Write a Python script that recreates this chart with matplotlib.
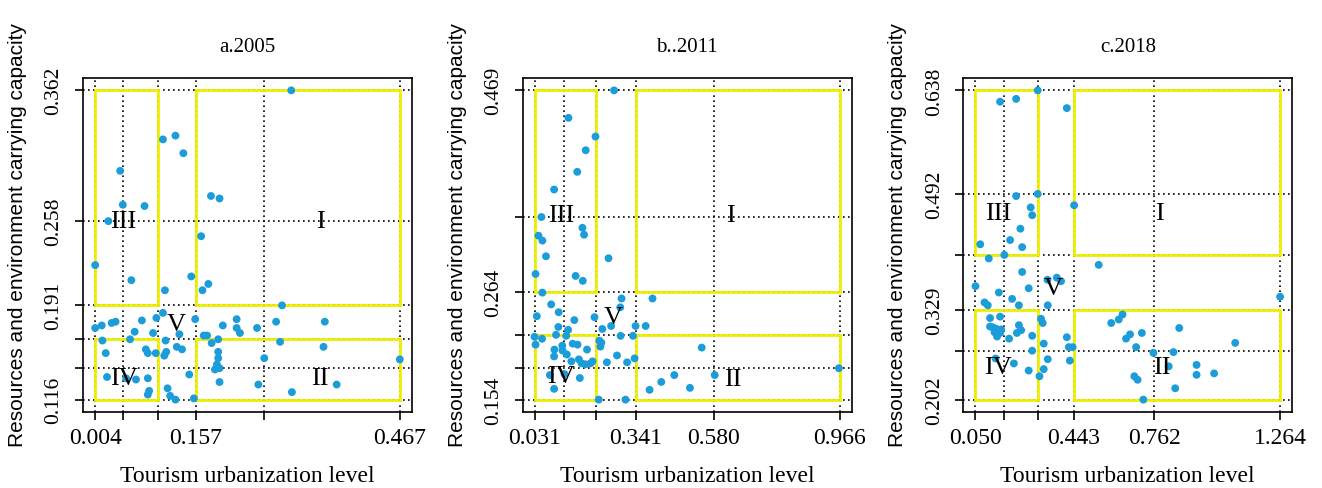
import matplotlib
matplotlib.use("Agg")
import matplotlib.pyplot as plt
from matplotlib.patches import Rectangle

# Dados (nível de urbanização turística x capacidade de carga)
anos = ["a.2005", "b..2011", "c.2018"]

x_2005 = [0.302, 0.107, 0.126, 0.138, 0.042, 0.046, 0.079, 0.180, 0.193, 0.024, 0.165, 0.004, 0.059,
          0.110, 0.150, 0.167, 0.176, 0.288, 0.004, 0.014, 0.029, 0.035, 0.075, 0.097, 0.107, 0.156,
          0.219, 0.198, 0.219, 0.224, 0.250, 0.279, 0.353, 0.064, 0.057, 0.015, 0.092, 0.111, 0.132,
          0.169, 0.174, 0.181, 0.191, 0.285, 0.351, 0.020, 0.081, 0.084, 0.096, 0.109, 0.112, 0.128,
          0.136, 0.191, 0.191, 0.261, 0.467, 0.189, 0.186, 0.193, 0.147, 0.022, 0.051, 0.066, 0.084,
          0.193, 0.252, 0.371, 0.086, 0.084, 0.114, 0.118, 0.126, 0.154, 0.303]
y_2005 = [0.362, 0.323, 0.326, 0.312, 0.298, 0.271, 0.270, 0.278, 0.276, 0.258, 0.246, 0.223, 0.211,
          0.203, 0.214, 0.203, 0.208, 0.191, 0.173, 0.175, 0.177, 0.178, 0.179, 0.181, 0.185, 0.180,
          0.180, 0.175, 0.173, 0.169, 0.173, 0.178, 0.178, 0.170, 0.164, 0.163, 0.169, 0.163, 0.168,
          0.167, 0.167, 0.161, 0.164, 0.162, 0.158, 0.153, 0.156, 0.153, 0.153, 0.151, 0.154, 0.158,
          0.156, 0.154, 0.149, 0.149, 0.148, 0.144, 0.140, 0.141, 0.136, 0.134, 0.133, 0.132, 0.133,
          0.130, 0.128, 0.128, 0.123, 0.120, 0.125, 0.119, 0.116, 0.117, 0.122]

x_2011 = [0.274, 0.134, 0.217, 0.187, 0.161, 0.090, 0.051, 0.042, 0.054, 0.065, 0.177, 0.182, 0.257,
          0.033, 0.156, 0.178, 0.054, 0.297, 0.392, 0.081, 0.104, 0.037, 0.152, 0.214, 0.293, 0.103,
          0.133, 0.238, 0.265, 0.340, 0.371, 0.030, 0.053, 0.096, 0.127, 0.294, 0.332, 0.033, 0.091,
          0.115, 0.147, 0.162, 0.229, 0.235, 0.232, 0.543, 0.116, 0.129, 0.191, 0.090, 0.143, 0.166,
          0.174, 0.186, 0.208, 0.202, 0.252, 0.283, 0.314, 0.337, 0.077, 0.090, 0.169, 0.383, 0.419,
          0.459, 0.507, 0.583, 0.964, 0.227, 0.309, 0.122]
y_2011 = [0.469, 0.441, 0.422, 0.408, 0.386, 0.368, 0.340, 0.321, 0.316, 0.300, 0.329, 0.322, 0.298,
          0.282, 0.280, 0.275, 0.263, 0.257, 0.257, 0.251, 0.243, 0.239, 0.235, 0.238, 0.248, 0.228,
          0.225, 0.226, 0.229, 0.229, 0.229, 0.218, 0.216, 0.220, 0.219, 0.219, 0.219, 0.210, 0.205,
          0.209, 0.211, 0.210, 0.214, 0.212, 0.208, 0.207, 0.204, 0.200, 0.205, 0.198, 0.193, 0.195,
          0.191, 0.190, 0.193, 0.191, 0.192, 0.199, 0.192, 0.196, 0.179, 0.165, 0.176, 0.164, 0.172,
          0.179, 0.166, 0.179, 0.186, 0.154, 0.154, 0.180]

x_2018 = [0.298, 0.148, 0.212, 0.414, 0.212, 0.298, 0.443, 0.270, 0.276, 0.229, 0.188, 0.236, 0.069,
          0.103, 0.165, 0.541, 0.236, 0.050, 0.143, 0.262, 0.337, 0.374, 0.391, 0.086, 0.099, 0.196,
          0.223, 0.338, 1.264, 0.108, 0.148, 0.108, 0.119, 0.132, 0.142, 0.136, 0.148, 0.152, 0.126,
          0.184, 0.223, 0.215, 0.232, 0.276, 0.311, 0.318, 0.322, 0.276, 0.338, 0.322, 0.305, 0.262,
          0.203, 0.130, 0.414, 0.422, 0.437, 0.426, 0.591, 0.621, 0.636, 0.650, 0.666, 0.713, 0.690,
          0.862, 1.085, 0.759, 0.839, 0.820, 0.683, 0.696, 0.931, 0.931, 1.001, 0.846, 0.719]
y_2018 = [0.638, 0.622, 0.626, 0.613, 0.489, 0.492, 0.476, 0.473, 0.462, 0.443, 0.427, 0.417, 0.421,
          0.401, 0.406, 0.392, 0.382, 0.362, 0.353, 0.359, 0.371, 0.374, 0.369, 0.339, 0.335, 0.344,
          0.335, 0.335, 0.347, 0.317, 0.319, 0.305, 0.304, 0.302, 0.297, 0.291, 0.296, 0.301, 0.297,
          0.288, 0.307, 0.296, 0.300, 0.292, 0.316, 0.310, 0.281, 0.271, 0.259, 0.245, 0.235, 0.243,
          0.253, 0.260, 0.290, 0.276, 0.276, 0.257, 0.310, 0.315, 0.322, 0.288, 0.294, 0.296, 0.276,
          0.303, 0.282, 0.268, 0.269, 0.249, 0.235, 0.230, 0.251, 0.237, 0.239, 0.218, 0.202]

# Divisões (ticks) de cada painel; rótulo vazio = tick sem texto
xticks_2005 = [0.004, 0.047, 0.099, 0.157, 0.261, 0.467]
xlabels_2005 = ["0.004", "", "", "0.157", "", "0.467"]
yticks_2005 = [0.116, 0.141, 0.1645, 0.191, 0.258, 0.362]
ylabels_2005 = ["0.116", "", "", "0.191", "0.258", "0.362"]

xticks_2011 = [0.031, 0.119, 0.219, 0.341, 0.580, 0.966]
xlabels_2011 = ["0.031", "", "", "0.341", "0.580", "0.966"]
yticks_2011 = [0.154, 0.186, 0.220, 0.264, 0.340, 0.469]
ylabels_2011 = ["0.154", "", "", "0.264", "", "0.469"]

xticks_2018 = [0.050, 0.165, 0.298, 0.443, 0.762, 1.264]
xlabels_2018 = ["0.050", "", "", "0.443", "0.762", "1.264"]
yticks_2018 = [0.202, 0.271, 0.329, 0.406, 0.492, 0.638]
ylabels_2018 = ["0.202", "", "0.329", "", "0.492", "0.638"]

# Tipos (zonas) e onde o rótulo aparece
zonas = ["III", "I", "V", "IV", "II"]
pos_zonas_2005 = [(0.047, 0.258), (0.346, 0.258), (0.127, 0.176), (0.048, 0.133), (0.346, 0.133)]
pos_zonas_2011 = [(0.112, 0.342), (0.632, 0.342), (0.271, 0.238), (0.112, 0.178), (0.639, 0.175)]
pos_zonas_2018 = [(0.139, 0.465), (0.785, 0.465), (0.358, 0.359), (0.139, 0.248), (0.792, 0.248)]

AZUL = "#1C9DD9"
AMARELO = "#EEEE00"
SERIF = "Liberation Serif"
SANS = "Liberation Sans"


def painel(ax, titulo, xs, ys, xt, xl, yt, yl, pos_zonas):
    # limites no estilo R (4% de folga)
    dx = xt[-1] - xt[0]
    dy = yt[-1] - yt[0]
    ax.set_xlim(xt[0] - 0.04 * dx, xt[-1] + 0.04 * dx)
    ax.set_ylim(yt[0] - 0.04 * dy, yt[-1] + 0.04 * dy)

    # grade pontilhada em todos os ticks
    for v in xt:
        ax.axvline(v, color="black", lw=1.2, ls=(0, (1, 2)), zorder=1)
    for v in yt:
        ax.axhline(v, color="black", lw=1.2, ls=(0, (1, 2)), zorder=1)

    # caixas amarelas
    x0, xa, xb, x1 = xt[0], xt[2], xt[3], xt[5]
    y0, ya, yb, y1 = yt[0], yt[2], yt[3], yt[5]
    for (ex, ey, w, h) in [(x0, yb, xa - x0, y1 - yb), (xb, yb, x1 - xb, y1 - yb),
                           (x0, y0, xa - x0, ya - y0), (xb, y0, x1 - xb, ya - y0)]:
        ax.add_patch(Rectangle((ex, ey), w, h, fill=False, edgecolor=AMARELO, lw=2.0, zorder=2))

    ax.scatter(xs, ys, s=32, color=AZUL, edgecolors="none", zorder=3)

    for nome, (px, py) in zip(zonas, pos_zonas):
        ax.text(px, py, nome, fontsize=19, family=SERIF, ha="center", va="center", zorder=4)

    ax.set_xticks(xt)
    ax.set_xticklabels(xl, fontsize=17, family=SERIF)
    ax.set_yticks(yt)
    ax.set_yticklabels(yl, fontsize=15.5, family=SERIF, rotation=90, va="center")
    ax.tick_params(axis="both", direction="out", length=6, width=1.2)
    ax.tick_params(axis="x", pad=5)
    ax.tick_params(axis="y", pad=8)
    for sp in ax.spines.values():
        sp.set_linewidth(1.2)

    ax.set_title(titulo, fontsize=15, family=SERIF, y=1.081, pad=0, va="baseline")
    ax.set_xlabel("Tourism urbanization level", fontsize=17, family=SERIF, va="baseline")
    ax.xaxis.set_label_coords(0.5, -0.207)
    ax.set_ylabel("Resources and environment carrying capacity", fontsize=15, family=SANS,
                  va="baseline", ha="center")
    ax.yaxis.set_label_coords(-0.182, 0.533)


fig = plt.figure(figsize=(13.22, 4.89), dpi=100)
esquerdas = [83, 522.7, 963.3]
dados = [
    (x_2005, y_2005, xticks_2005, xlabels_2005, yticks_2005, ylabels_2005, pos_zonas_2005),
    (x_2011, y_2011, xticks_2011, xlabels_2011, yticks_2011, ylabels_2011, pos_zonas_2011),
    (x_2018, y_2018, xticks_2018, xlabels_2018, yticks_2018, ylabels_2018, pos_zonas_2018),
]
for esq, titulo, d in zip(esquerdas, anos, dados):
    ax = fig.add_axes([esq / 1322, 1 - 413 / 489, 329 / 1322, 334 / 489])
    painel(ax, titulo, *d)

fig.savefig("out.png", dpi=100)
plt.close(fig)
